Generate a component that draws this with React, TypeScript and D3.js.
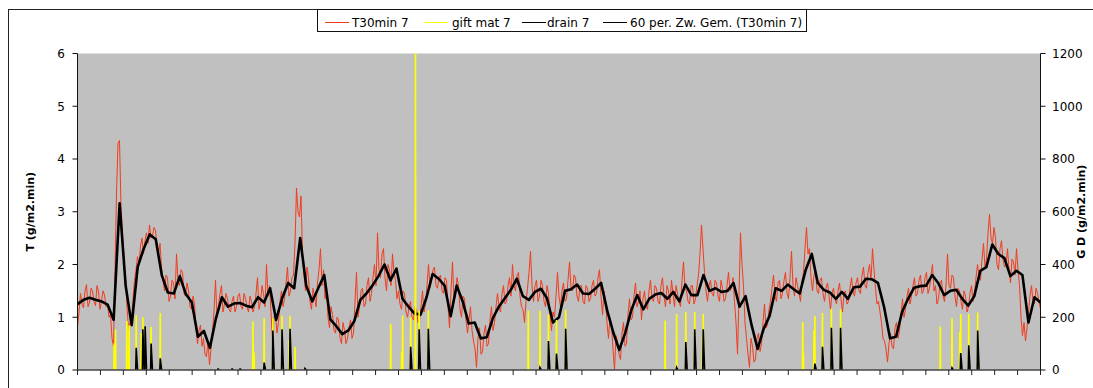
import React from 'react';
import * as d3 from 'd3';

const W = 1093;
const H = 388;
const SPAN = 42;
const xTicks = d3.range(0, SPAN + 1);
const tTicks = [0, 1, 2, 3, 4, 5, 6];
const gdTicks = [0, 200, 400, 600, 800, 1000, 1200];

const seriesNames = ['T30min 7', 'gift mat 7', 'drain 7', '60 per. Zw. Gem. (T30min 7)'];
const seriesColors = ['#f03c1e', '#ffff00', '#000000', '#000000'];

// T30min 7 (left axis), samples at the even positions
const t30 = [
  0.82, 1.45, 1.18, 1.62, 1.28, 1.5, 1.22, 1.48, 1.3, 1.42,
  1.25, 1.05, 0.45, 3.35, 4.35, 2.6, 1.75, 0.78, 0.95, 1.7,
  2.15, 2.35, 2.2, 2.6, 2.75, 2.55, 2.65, 2.2, 1.95, 1.5,
  1.75, 1.4, 1.65, 2.2, 1.6, 1.85, 1.4, 1.5, 1.15, 1.25,
  0.5, 0.85, 0.6, 0.25, 0.1, 0.75, 1.7, 1.2, 1.6, 1.25,
  1.35, 1.1, 1.4, 1.2, 1.45, 1.15, 1.35, 1.1, 1.3, 1.2,
  1.75, 1.3, 1.45, 2.0, 1.6, 0.55, 1.05, 0.9, 1.5, 1.35,
  1.95, 1.5, 1.8, 3.45, 2.9, 2.2, 1.5, 1.75, 1.15, 1.4,
  1.65, 2.3, 1.9, 1.5, 0.8, 1.05, 0.7, 0.95, 0.5, 0.75,
  0.6, 0.95, 0.7, 1.85, 1.2, 1.55, 1.25, 1.75, 1.45, 2.0,
  2.6, 1.75, 2.3, 1.5, 1.9, 2.2, 1.7, 1.5, 1.15, 1.45,
  1.0, 1.3, 0.95, 1.15, 0.95, 1.5, 1.25, 2.0, 1.7, 1.95,
  1.55, 1.8, 1.45, 1.7, 0.8, 2.05, 1.4, 1.6, 1.0, 1.35,
  0.7, 1.2, 0.55, 0.05, 0.8, 0.35, 0.85, 0.5, 1.2, 0.9,
  1.45, 1.1, 1.6, 1.3, 1.75, 2.0, 1.5, 1.85, 1.2, 0.9,
  1.55, 2.25, 1.3, 1.7, 1.4, 1.6, 1.2, 1.45, 0.75, 1.0,
  1.85, 1.2, 1.65, 1.35, 2.05, 1.5, 1.75, 1.3, 1.6, 1.25,
  1.55, 1.35, 1.7, 1.45, 1.9, 1.05, 1.3, 0.6, 0.85, 0.0,
  0.55, 0.2, 0.9, 0.5, 1.35, 1.0, 1.65, 1.3, 0.95, 1.5,
  1.15, 1.7, 1.3, 1.55, 1.25, 1.75, 1.2, 1.5, 1.7, 1.2,
  1.45, 1.2, 2.05, 1.5, 1.25, 1.6, 1.35, 1.8, 2.75, 1.85,
  1.3, 1.7, 1.4, 1.65, 1.3, 1.55, 1.35, 1.85, 1.55, 1.3,
  0.3, 2.6, 1.6, 0.6, 0.05, 0.45, 0.2, 0.7, 0.5, 1.25,
  0.85, 1.3, 1.8, 1.3, 1.7, 1.45, 1.85, 1.35, 2.25, 1.4,
  1.6, 1.3, 1.85, 2.7, 2.3, 1.5, 1.9, 1.45, 1.75, 1.3,
  1.65, 1.15, 1.55, 1.25, 1.65, 1.1, 1.5, 1.3, 1.75, 1.4,
  1.75, 1.45, 1.95, 1.55, 2.0, 2.3, 1.55, 1.3, 0.9, 0.55,
  0.15, 0.7, 0.4, 0.9, 0.75, 1.35, 1.15, 1.55, 1.4, 1.75,
  1.45, 1.8, 1.5, 1.85, 1.55, 2.0, 1.6, 1.35, 1.7, 1.3,
  2.2, 1.55, 1.75, 1.2, 1.5, 1.15, 1.4, 1.2, 1.6, 1.45,
  2.0, 1.7, 2.4, 2.1, 2.95, 2.4, 2.5, 1.9, 2.45, 1.95,
  2.3, 1.65, 2.05, 2.3, 1.6, 0.65, 0.55, 1.1, 1.6, 1.25,
  1.45, 1.15,
];

// T30min 7, samples at the odd positions (between the ones above)
const t30Odd = [
  1.1, 1.25, 1.5, 1.2, 1.55, 1.3, 1.6, 1.15, 1.5, 1.2,
  1.0, 0.6, 1.9, 4.3, 3.1, 2.1, 1.2, 0.9, 1.35, 1.9,
  2.0, 2.5, 2.45, 2.4, 2.5, 2.7, 2.35, 2.4, 1.7, 1.8,
  1.3, 1.7, 1.35, 1.7, 1.9, 1.45, 1.65, 1.2, 1.4, 0.8,
  0.75, 0.45, 0.3, 0.55, 0.4, 1.1, 1.0, 1.45, 1.1, 1.45,
  1.15, 1.3, 1.1, 1.4, 1.2, 1.45, 1.2, 1.4, 1.1, 1.45,
  1.15, 1.6, 1.2, 1.4, 1.1, 1.0, 0.7, 1.3, 1.2, 1.65,
  1.4, 1.75, 2.4, 3.0, 3.3, 1.8, 1.95, 1.3, 1.55, 1.2,
  1.9, 1.6, 1.35, 1.0, 1.2, 0.75, 1.0, 0.6, 0.9, 0.5,
  0.8, 0.6, 1.3, 1.0, 1.5, 1.2, 1.6, 1.3, 1.75, 1.6,
  1.9, 2.2, 1.75, 2.0, 1.6, 1.85, 1.35, 1.25, 1.5, 1.1,
  1.2, 1.0, 1.2, 0.9, 1.2, 1.1, 1.6, 1.55, 1.9, 1.6,
  1.75, 1.5, 1.75, 1.2, 1.5, 1.3, 1.75, 1.15, 1.4, 0.95,
  0.95, 0.75, 0.4, 0.6, 0.3, 0.7, 0.45, 0.95, 0.75, 1.2,
  1.2, 1.45, 1.25, 1.6, 1.4, 1.6, 1.8, 1.4, 1.15, 1.3,
  1.85, 1.6, 1.6, 1.3, 1.7, 1.3, 1.6, 1.05, 1.1, 1.4,
  1.4, 1.5, 1.3, 1.7, 1.55, 1.8, 1.4, 1.6, 1.3, 1.6,
  1.3, 1.6, 1.4, 1.75, 1.4, 1.5, 0.9, 1.0, 0.4, 0.65,
  0.3, 0.7, 0.45, 1.05, 0.95, 1.4, 1.2, 1.5, 1.35, 1.2,
  1.5, 1.35, 1.6, 1.3, 1.6, 1.4, 1.6, 1.25, 1.45, 1.6,
  1.3, 1.7, 1.55, 1.3, 1.6, 1.25, 1.6, 2.2, 2.3, 1.5,
  1.6, 1.45, 1.7, 1.4, 1.7, 1.3, 1.6, 1.5, 1.75, 0.9,
  1.4, 2.0, 0.9, 0.3, 0.6, 0.15, 0.6, 0.35, 0.9, 0.8,
  1.15, 1.55, 1.4, 1.65, 1.35, 1.7, 1.45, 1.75, 1.6, 1.75,
  1.45, 1.7, 2.3, 2.2, 1.75, 1.8, 1.5, 1.7, 1.45, 1.55,
  1.4, 1.45, 1.35, 1.5, 1.35, 1.45, 1.25, 1.55, 1.5, 1.65,
  1.5, 1.8, 1.6, 1.85, 1.7, 1.9, 1.25, 1.1, 0.6, 0.4,
  0.5, 0.45, 0.8, 0.6, 1.05, 1.0, 1.4, 1.25, 1.6, 1.4,
  1.7, 1.45, 1.75, 1.45, 1.8, 1.5, 1.25, 1.65, 1.4, 1.6,
  1.6, 1.8, 1.4, 1.55, 1.3, 1.5, 1.1, 1.45, 1.3, 1.75,
  1.8, 2.1, 1.95, 2.6, 2.5, 2.7, 2.0, 2.3, 2.1, 2.0,
  1.9, 2.1, 1.8, 1.9, 1.0, 0.9, 0.8, 1.4, 1.3, 1.55,
  1.3,
];

// 60 per. Zw. Gem. (T30min 7) (left axis)
const ma60 = [
  1.25, 1.33, 1.37, 1.33, 1.3, 1.24, 0.95, 3.16, 1.6, 0.85,
  1.95, 2.3, 2.57, 2.48, 1.8, 1.47, 1.45, 1.78, 1.44, 1.28,
  0.63, 0.74, 0.42, 0.98, 1.38, 1.2, 1.26, 1.27, 1.22, 1.19,
  1.38, 1.28, 1.55, 0.95, 1.36, 1.65, 1.55, 2.5, 1.6, 1.3,
  1.55, 1.8, 0.96, 0.83, 0.68, 0.75, 0.93, 1.33, 1.45, 1.6,
  1.78, 2.0, 1.7, 1.92, 1.35, 1.2, 1.07, 1.05, 1.38, 1.82,
  1.73, 1.6, 1.02, 1.6, 1.3, 0.88, 0.9, 0.6, 0.62, 0.98,
  1.2, 1.36, 1.52, 1.73, 1.4, 1.33, 1.48, 1.54, 1.36, 0.9,
  1.0, 1.5, 1.53, 1.62, 1.45, 1.44, 1.54, 1.65, 1.13, 0.72,
  0.38, 0.7, 1.13, 1.42, 1.15, 1.35, 1.43, 1.46, 1.35, 1.48,
  1.3, 1.62, 1.42, 1.42, 1.8, 1.5, 1.55, 1.48, 1.5, 1.65,
  1.2, 1.4, 0.85, 0.4, 0.78, 1.03, 1.55, 1.5, 1.62, 1.53,
  1.45, 1.9, 2.2, 1.65, 1.52, 1.47, 1.35, 1.48, 1.35, 1.57,
  1.58, 1.73, 1.72, 1.65, 1.2, 0.6, 0.63, 1.1, 1.35, 1.56,
  1.59, 1.6, 1.8, 1.65, 1.42, 1.5, 1.52, 1.35, 1.22, 1.4,
  1.88, 1.95, 2.38, 2.2, 2.12, 1.78, 1.88, 1.8, 0.9, 1.38,
  1.28,
];

// gift mat 7 (right axis): positions in x-axis units and values
const giftPos = [
  1.60, 1.66, 2.15, 2.25, 2.56, 2.78, 2.85, 3.21, 3.61,
  7.65, 7.70, 8.14, 8.52, 8.92, 9.23, 9.27, 9.49,
  13.66, 14.14, 14.18, 14.53, 14.74, 14.90, 15.30,
  19.66, 20.17, 20.54, 20.89, 21.29,
  25.63, 26.13, 26.53, 26.92, 27.26, 27.29,
  31.63, 31.66, 32.12, 32.16, 32.49, 32.88, 33.28,
  37.63, 38.14, 38.48, 38.52, 38.87, 39.26,
];
const giftVal = [
  100, 154, 186, 170, 208, 140, 200, 164, 216,
  184, 66, 196, 196, 206, 114, 206, 88,
  174, 70, 206, 200, 1300, 224, 226,
  226, 226, 210, 190, 228,
  188, 212, 220, 220, 130, 212,
  182, 64, 152, 206, 216, 232, 230,
  166, 196, 144, 212, 212, 218,
];

// drain 7 (right axis)
const drainPos = [
  2.56, 2.85, 2.95, 3.21, 3.61,
  6.13, 6.74, 7.09,
  8.14, 8.52, 8.92, 9.27, 9.92,
  14.53, 14.90, 15.30,
  20.17, 20.54, 20.89, 21.29,
  26.13, 26.53, 26.92, 27.29,
  32.16, 32.49, 32.88, 33.28,
  38.14, 38.52, 38.87, 39.26,
];
const drainVal = [
  84, 154, 166, 100, 44,
  4, 4, 4,
  28, 150, 154, 156, 6,
  88, 154, 156,
  10, 110, 62, 156,
  10, 106, 154, 154,
  24, 88, 160, 160,
  8, 64, 94, 150,
];

const FONT = '"DejaVu Sans", Verdana, sans-serif';

export default function App() {
  const m = { l: 77.5, r: 1040.5, t: 53.5, b: 370 };
  const x = d3.scaleLinear().domain([0, SPAN]).range([m.l, m.r]);
  const yL = d3.scaleLinear().domain([0, 6]).range([m.b, m.t]);
  const yR = d3.scaleLinear().domain([0, 1200]).range([m.b, m.t]);

  // full T30min series: even and odd samples interleaved
  const redSeries: number[] = [];
  t30.forEach((v, i) => {
    redSeries.push(v);
    if (i < t30Odd.length) redSeries.push(t30Odd[i]);
  });

  const redPath = d3
    .line<number>()
    .x((_, i) => x((i * SPAN) / (redSeries.length - 1)))
    .y((d) => yL(d))(redSeries);
  const maPath = d3
    .line<number>()
    .x((_, i) => x((i * SPAN) / (ma60.length - 1)))
    .y((d) => yL(d))(ma60);

  const spike = d3
    .line<[number, number]>()
    .x((d) => x(d[0]))
    .y((d) => yR(d[1]));

  const giftPaths = giftPos.map((p, i) =>
    spike([
      [p - 0.012, 0],
      [p, giftVal[i]],
      [p + 0.012, 0],
    ])
  );
  const drainPaths = drainPos.map((p, i) =>
    spike([
      [p - 0.02, 0],
      [p, drainVal[i]],
      [p + 0.06, 0],
    ])
  );

  const legendX = [325, 424, 522, 603];
  const legendTextX = [352, 452, 547, 630];

  return (
    <svg
      width={W}
      height={H}
      style={{ position: 'absolute', left: 0, top: 0, background: '#fff' }}
      fontFamily={FONT}
    >
      <defs>
        <clipPath id="plotClip">
          <rect x={m.l} y={m.t} width={m.r - m.l} height={m.b - m.t} />
        </clipPath>
      </defs>
      <rect x={8.5} y={9.5} width={W + 20} height={H + 20} fill="#fff" stroke="#222" strokeWidth={1} />

      <rect x={m.l} y={m.t} width={m.r - m.l} height={m.b - m.t} fill="#c0c0c0" />

      <g clipPath="url(#plotClip)">
        <path d={redPath || ''} fill="none" stroke={seriesColors[0]} strokeWidth={1} />
        <path d={maPath || ''} fill="none" stroke="#000" strokeWidth={2.6} strokeLinejoin="round" />
        {giftPaths.map((d, i) => (
          <path key={'g' + i} d={d || ''} fill="none" stroke={seriesColors[1]} strokeWidth={1.6} />
        ))}
        {drainPaths.map((d, i) => (
          <path key={'d' + i} d={d || ''} fill="none" stroke="#000" strokeWidth={1.6} />
        ))}
      </g>

      <line x1={m.l} x2={m.r} y1={m.b} y2={m.b} stroke="#444" strokeWidth={1.5} />
      {xTicks.map((t) => (
        <line key={'xt' + t} x1={x(t)} x2={x(t)} y1={m.b} y2={m.b + 5} stroke="#222" strokeWidth={1} />
      ))}

      <line x1={m.l} x2={m.l} y1={m.t} y2={m.b} stroke="#111" strokeWidth={1} />
      {tTicks.map((t) => (
        <g key={'lt' + t}>
          <line x1={m.l - 5} x2={m.l} y1={yL(t)} y2={yL(t)} stroke="#111" />
          <text x={65} y={yL(t)} dy="0.36em" textAnchor="end" fontSize={12} fill="#000">
            {t}
          </text>
        </g>
      ))}
      <text
        transform={`translate(34,${(m.t + m.b) / 2}) rotate(-90)`}
        textAnchor="middle"
        fontSize={11}
        fontWeight="bold"
        fill="#000"
      >
        T (g/m2.min)
      </text>

      <line x1={m.r} x2={m.r} y1={m.t} y2={m.b} stroke="#111" strokeWidth={1} />
      {gdTicks.map((t) => (
        <g key={'rt' + t}>
          <line x1={m.r} x2={m.r + 5} y1={yR(t)} y2={yR(t)} stroke="#111" />
          <text x={1052} y={yR(t)} dy="0.36em" textAnchor="start" fontSize={12} fill="#000">
            {t}
          </text>
        </g>
      ))}
      <text
        transform={`translate(1085,${(m.t + m.b) / 2}) rotate(-90)`}
        textAnchor="middle"
        fontSize={11}
        fontWeight="bold"
        fill="#000"
      >
        G D (g/m2.min)
      </text>

      <rect x={317.5} y={9.5} width={489} height={22} fill="#fff" stroke="#111" strokeWidth={1} />
      {seriesNames.map((n, i) => (
        <g key={'lg' + i}>
          <line
            x1={legendX[i]}
            x2={legendX[i] + 24}
            y1={22.5}
            y2={22.5}
            stroke={seriesColors[i]}
            strokeWidth={1}
          />
          <text x={legendTextX[i]} y={26.5} fontSize={12} fill="#000">
            {n}
          </text>
        </g>
      ))}
    </svg>
  );
}
